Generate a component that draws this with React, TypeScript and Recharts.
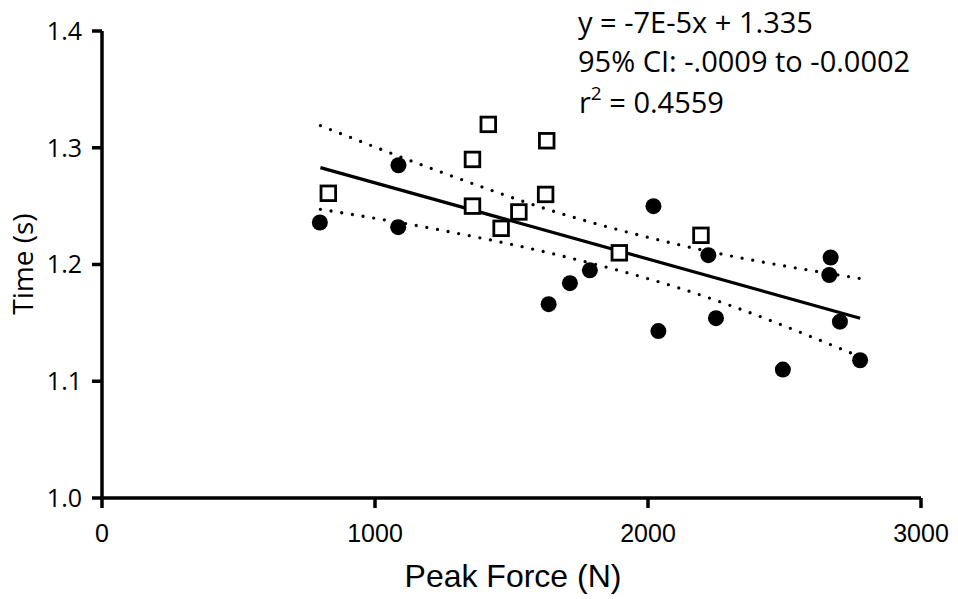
import React from 'react';
import { ComposedChart, XAxis, YAxis, Scatter, Line } from 'recharts';

// Filled circles
const circleX = [798, 1086, 1085, 1636, 1714, 1787, 2020, 2038, 2221, 2249, 2494, 2664, 2669, 2703, 2777];
const circleY = [1.236, 1.285, 1.232, 1.166, 1.184, 1.195, 1.250, 1.143, 1.208, 1.154, 1.110, 1.191, 1.206, 1.151, 1.118];

// Open squares
const squareX = [829, 1357, 1357, 1415, 1462, 1527, 1625, 1629, 1895, 2194];
const squareY = [1.261, 1.290, 1.250, 1.320, 1.231, 1.245, 1.260, 1.306, 1.210, 1.225];

// Regression line end points
const fitX = [800, 2777];
const fitY = [1.283, 1.154];

// 95% confidence band
const bandX = [800, 1238, 1671, 2117, 2777];
const upperY = [1.319, 1.2795, 1.2444, 1.2167, 1.188];
const lowerY = [1.2473, 1.2296, 1.2081, 1.1796, 1.121];

const xTicks = [0, 1000, 2000, 3000];
const yTicks = [1.0, 1.1, 1.2, 1.3, 1.4];

const zip = (xs: number[], ys: number[]) => xs.map((x, i) => ({ x, y: ys[i] }));
const circles = zip(circleX, circleY);
const squares = zip(squareX, squareY);
const fit = zip(fitX, fitY);
const upper = zip(bandX, upperY);
const lower = zip(bandX, lowerY);

const CAL = "'Open Sans', sans-serif";
const ARI = "'Liberation Sans', Arial, sans-serif";

const DotShape = (p: any) => <circle cx={p.cx} cy={p.cy} r={8} fill="#000" />;
const SquareShape = (p: any) => (
  <rect x={p.cx - 7.3} y={p.cy - 7.3} width={14.6} height={14.6} fill="#fff" stroke="#000" strokeWidth={2.8} />
);

export default function App() {
  return (
    <div style={{ position: 'absolute', left: 0, top: 0, width: 958, height: 599, background: '#fff' }}>
      <ComposedChart width={958} height={599} margin={{ top: 31, right: 37, left: 22, bottom: 41 }}>
        <XAxis
          type="number"
          dataKey="x"
          domain={[0, 3000]}
          ticks={xTicks}
          height={60}
          axisLine={{ stroke: '#000', strokeWidth: 3.5 }}
          tickLine={{ stroke: '#000', strokeWidth: 3.5 }}
          tickSize={10}
          tickMargin={16}
          tick={{ fontSize: 25, fontFamily: ARI, fill: '#000' }}
          allowDataOverflow
        />
        <YAxis
          type="number"
          dataKey="y"
          domain={[1.0, 1.4]}
          ticks={yTicks}
          width={80}
          axisLine={{ stroke: '#000', strokeWidth: 3.5 }}
          tickLine={{ stroke: '#000', strokeWidth: 3.5 }}
          tickSize={10}
          tickMargin={10}
          tickFormatter={(v: number) => v.toFixed(1)}
          tick={{ fontSize: 25, fontFamily: CAL, fill: '#000' }}
          allowDataOverflow
        />
        <Line data={upper} dataKey="y" type="monotone" stroke="#000" strokeWidth={3.3} strokeDasharray="0 10.8" strokeLinecap="round" dot={false} activeDot={false} isAnimationActive={false} />
        <Line data={lower} dataKey="y" type="monotone" stroke="#000" strokeWidth={3.3} strokeDasharray="0 10.8" strokeLinecap="round" dot={false} activeDot={false} isAnimationActive={false} />
        <Line data={fit} dataKey="y" type="linear" stroke="#000" strokeWidth={3.2} dot={false} activeDot={false} isAnimationActive={false} />
        <Scatter data={circles} dataKey="y" shape={DotShape} isAnimationActive={false} />
        <Scatter data={squares} dataKey="y" shape={SquareShape} isAnimationActive={false} />
        <text x={33} y={264} transform="rotate(-90 33 264)" textAnchor="middle" fontSize={28} fontFamily={CAL} fill="#000">Time (s)</text>
        <text x={513} y={587} textAnchor="middle" fontSize={32} fontFamily={ARI} fill="#000">Peak Force (N)</text>
        <text x={578} y={33} fontSize={29} fontFamily={CAL} fill="#000">y = -7E-5x + 1.335</text>
        <text x={578} y={72} fontSize={29} fontFamily={CAL} fill="#000">95% CI: -.0009 to -0.0002</text>
        <text x={579} y={113} fontSize={29} fontFamily={CAL} fill="#000">
          r<tspan fontSize={19} dy={-13}>2</tspan><tspan dy={13}> = 0.4559</tspan>
        </text>
      </ComposedChart>
    </div>
  );
}
